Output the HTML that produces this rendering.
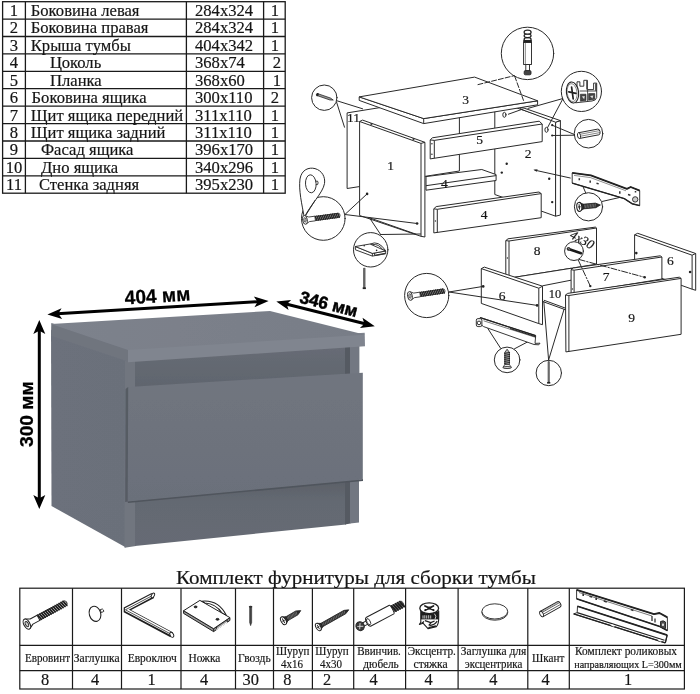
<!DOCTYPE html>
<html><head><meta charset="utf-8">
<style>
html,body{margin:0;padding:0;background:#fff;}
body{width:700px;height:694px;overflow:hidden;position:relative;font-family:"Liberation Serif",serif;}
svg{position:absolute;left:0;top:0;will-change:transform;opacity:0.9999;}
text{font-family:"Liberation Serif",serif;fill:#151515;stroke:#151515;stroke-width:0.18px;}
.t1{font-size:16.6px;}
.sans{font-family:"Liberation Sans",sans-serif;font-weight:bold;fill:#000;stroke:#000;stroke-width:0.25px;}
.ln{stroke:#2a2a2a;stroke-width:1;fill:none;stroke-linejoin:round;stroke-linecap:round;}
.pf{stroke:#2a2a2a;stroke-width:1;fill:#fff;stroke-linejoin:round;}
</style></head><body>
<svg width="700" height="694" viewBox="0 0 700 694">
<rect width="700" height="694" fill="#fff"/>

<!-- ===== TOP TABLE ===== -->
<g id="toptable" stroke="#1a1a1a" stroke-width="1.3" fill="none">
<rect x="2.6" y="1.7" width="282.6" height="191.5"/>
<path d="M25.4 1.7V193.2M186.4 1.7V193.2M263.6 1.7V193.2"/>
<path d="M2.6 19.1H285.2M2.6 36.5H285.2M2.6 53.9H285.2M2.6 71.3H285.2M2.6 88.7H285.2M2.6 106.1H285.2M2.6 123.6H285.2M2.6 141H285.2M2.6 158.4H285.2M2.6 175.8H285.2"/>
</g>
<g id="toptext" class="t1">
<text x="14" y="16" text-anchor="middle">1</text>
<text x="14" y="33.4" text-anchor="middle">2</text>
<text x="14" y="50.8" text-anchor="middle">3</text>
<text x="14" y="68.2" text-anchor="middle">4</text>
<text x="14" y="85.6" text-anchor="middle">5</text>
<text x="14" y="103" text-anchor="middle">6</text>
<text x="14" y="120.5" text-anchor="middle">7</text>
<text x="14" y="137.9" text-anchor="middle">8</text>
<text x="14" y="155.3" text-anchor="middle">9</text>
<text x="14" y="172.7" text-anchor="middle">10</text>
<text x="14" y="190.1" text-anchor="middle">11</text>

<text x="30.8" y="16">Боковина левая</text>
<text x="30.8" y="33.4">Боковина правая</text>
<text x="30.8" y="50.8">Крыша тумбы</text>
<text x="50" y="68.2">Цоколь</text>
<text x="50" y="85.6">Планка</text>
<text x="31.6" y="103">Боковина ящика</text>
<text x="30.8" y="120.5">Щит ящика передний</text>
<text x="30.8" y="137.9">Щит ящика задний</text>
<text x="41" y="155.3">Фасад ящика</text>
<text x="41" y="172.7">Дно ящика</text>
<text x="39" y="190.1">Стенка задняя</text>

<text x="195" y="16">284х324</text>
<text x="195" y="33.4">284х324</text>
<text x="195" y="50.8">404х342</text>
<text x="195" y="68.2">368х74</text>
<text x="195" y="85.6">368х60</text>
<text x="195" y="103">300х110</text>
<text x="195" y="120.5">311х110</text>
<text x="195" y="137.9">311х110</text>
<text x="195" y="155.3">396х170</text>
<text x="195" y="172.7">340х296</text>
<text x="195" y="190.1">395х230</text>

<text x="275" y="16" text-anchor="middle">1</text>
<text x="275" y="33.4" text-anchor="middle">1</text>
<text x="275" y="50.8" text-anchor="middle">1</text>
<text x="277" y="68.2" text-anchor="middle">2</text>
<text x="277" y="85.6" text-anchor="middle">1</text>
<text x="275" y="103" text-anchor="middle">2</text>
<text x="275" y="120.5" text-anchor="middle">1</text>
<text x="275" y="137.9" text-anchor="middle">1</text>
<text x="275" y="155.3" text-anchor="middle">1</text>
<text x="275" y="172.7" text-anchor="middle">1</text>
<text x="275" y="190.1" text-anchor="middle">1</text>
</g>

<!-- ===== NIGHTSTAND ===== -->
<g id="stand">
<!--NIGHTSTAND-->
<defs>
<linearGradient id="gTop" x1="0" y1="0" x2="1" y2="0"><stop offset="0" stop-color="#7d828c"/><stop offset="1" stop-color="#787d87"/></linearGradient>
<linearGradient id="gSide" x1="0" y1="0" x2="1" y2="0"><stop offset="0" stop-color="#6c717b"/><stop offset="1" stop-color="#6b707a"/></linearGradient>
<linearGradient id="gDr" x1="0" y1="0" x2="0" y2="1"><stop offset="0" stop-color="#70757f"/><stop offset="1" stop-color="#6b707a"/></linearGradient>
<filter id="soft" x="-5%" y="-5%" width="110%" height="110%"><feGaussianBlur stdDeviation="0.45"/></filter>
<linearGradient id="gRec" x1="0" y1="0" x2="0" y2="1"><stop offset="0" stop-color="#686d76"/><stop offset="1" stop-color="#5f646d"/></linearGradient>
<linearGradient id="gPl" x1="0" y1="0" x2="0" y2="1"><stop offset="0" stop-color="#595e66"/><stop offset="0.35" stop-color="#646972"/><stop offset="1" stop-color="#666b74"/></linearGradient>
</defs>
<g filter="url(#soft)">
<!-- left side -->
<polygon points="51,330 130,355 126,547.5 51.5,506" fill="url(#gSide)"/>
<!-- left panel front edge -->
<polygon points="125,356 136,356 136,546 124.5,547.8" fill="#71767f"/>
<!-- recess -->
<polygon points="135,355 346,340 346,376 135,391" fill="url(#gRec)"/>
<!-- right panel shadow+edge top -->
<polygon points="345,340 350.5,340 350.5,376 345,376" fill="#555a62"/>
<polygon points="350,340 359.4,340 359.4,376 350,376" fill="#737882"/>
<!-- plinth -->
<polygon points="135,497 346,477 346,524.5 135,546" fill="url(#gPl)"/>
<polygon points="345,477 350.5,477 350.5,523.5 345,524.5" fill="#555a62"/>
<polygon points="350,477 359,477 359,522.5 350,523.5" fill="#727781"/>
<!-- drawer front -->
<polygon points="127.5,501 363,479 363,481 128,503" fill="#50555d"/>
<polygon points="128,387 362.8,372.7 362.8,479.5 127.5,501.5" fill="url(#gDr)"/>
<polygon points="125.6,389 128.2,387 127.7,501.5 125.2,502" fill="#565b64"/>
<!-- top slab -->
<polygon points="51.3,323 129,347.5 129,362 51,336" fill="#6f747e"/>
<polygon points="128,347.5 364.7,332.8 365,346.3 128,362.3" fill="#80858f"/>
<polygon points="51,324 270,311 365,334.8 128,350" fill="url(#gTop)"/>
</g>
<!-- arrows -->
<g fill="#000" stroke="none">
<!-- 404 arrow heads (line angle -3.45deg) -->
<g transform="translate(47.4,314.4) rotate(-3.45)"><path d="M0 0L14.5 -5.4L11 0L14.5 5.4Z"/></g>
<g transform="translate(268.6,301) rotate(176.55)"><path d="M0 0L14.5 -5.4L11 0L14.5 5.4Z"/></g>
<!-- 346 arrow heads (angle 14.2deg) -->
<g transform="translate(276.3,301.5) rotate(14.2)"><path d="M0 0L14 -5.2L10.8 0L14 5.2Z"/></g>
<g transform="translate(374.8,326.3) rotate(194.2)"><path d="M0 0L14 -5.2L10.8 0L14 5.2Z"/></g>
<!-- 300 arrow heads -->
<g transform="translate(39.3,320) rotate(90)"><path d="M0 0L14 -6L10.8 0L14 6Z"/></g>
<g transform="translate(39.3,509) rotate(-90)"><path d="M0 0L14 -6L10.8 0L14 6Z"/></g>
</g>
<g stroke="#000" stroke-width="3" fill="none">
<path d="M57 313.8L259 301.6"/>
<path d="M286 304L365 323.8"/>
<path d="M39.3 330V499"/>
</g>
<text class="sans" font-size="19.6" textLength="65.8" lengthAdjust="spacingAndGlyphs" transform="translate(125,304.4) rotate(-3.4)">404 мм</text>
<text class="sans" font-size="17.4" textLength="59" lengthAdjust="spacingAndGlyphs" style="stroke-width:0.5px" transform="translate(298.8,302.4) rotate(14.5)">346 мм</text>
<text class="sans" font-size="18.5" textLength="65.8" lengthAdjust="spacingAndGlyphs" transform="translate(33.3,447) rotate(-90)">300 мм</text>
</g>

<!-- ===== EXPLODED DIAGRAM ===== -->
<g id="explode">
<!--EXPLODE-->
<g class="pf" stroke-width="1.15">
<!-- panel 11 (back wall) -->
<path d="M347.1 112.9L459.4 94.8V171L347.1 188.5Z"/>
<!-- panel 2 right side (inner face seen) -->
<path d="M494.8 100.6V194.5L555.6 216.2V121Z"/>
<path d="M555.6 122.2L560.4 120.6V215L555.6 216.2Z"/>
<path d="M521.7 107.3L560.4 120.6L555.6 122.2L520.5 109Z"/>
<!-- back vertical (panel 11 edge seen through) -->
<!-- upper plank 4 (rear plinth, lying flat) -->
<path d="M426 176.6L481.8 169.5L496.1 174.6V180.5L426 190.2Z"/>
<path d="M426 185.7L496.1 175.6" fill="none"/>
<!-- plank 5 -->
<path d="M430.2 139.9L432.4 137.8L539.2 121.2L542.2 124V141.6L430.2 158.9Z"/>
<path d="M434.3 140.4V158.2M430.2 139.9L434.3 140.4L542.2 124" fill="none"/>
<!-- lower plank 4 -->
<path d="M433.8 208.8L436.2 206.6L539 192L541.2 193.6V217.7L433.8 232.9Z"/>
<path d="M437.3 209.3V232.3M433.8 208.8L437.3 209.3L541.2 193.6" fill="none"/>
<!-- panel 3 top -->
<path d="M359.2 96.9V100.4L423.7 123.6L537.6 104.8V100.8L423.7 118.6Z"/>
<path d="M359.2 96.9L474.6 77.1L537.6 100.8L423.7 118.6Z"/>
<path d="M423.7 118.6V123.6" fill="none"/>
<!-- panel 1 left side -->
<path d="M359.6 121.5L362.6 120.1L424.9 142.3V237L421 236.3L359.6 215.5Z"/>
<path d="M359.6 121.5L421 143.4V236.3M421 143.4L424.9 142.3" fill="none"/>
</g>
<!-- drawer parts -->
<g class="pf" stroke-width="1.15">
<!-- panel 8 -->
<path d="M505.8 240.6L508 238.8L595.4 227.1L596.5 228V264.2L505.8 278.7Z"/>
<path d="M509 241V278M505.8 240.6L509 241L596.5 228" fill="none"/>
<!-- panel 6 right -->
<path d="M634.6 234.8L637.7 233.3L695.7 253.5V290.3L692.1 289.2L634.6 268.6Z"/>
<path d="M634.6 234.8L692.1 255.2V289.2M692.1 255.2L695.7 253.5" fill="none"/>
<!-- panel 10 bottom -->
<path d="M515.6 277.1L571 268.3L640 292L565 309.6L543.5 301.8Z"/>
<path d="M542.5 285.8L571 280.2" fill="none"/>
<path d="M543.8 300.2L565.6 308.2" fill="none"/>
<!-- panel 7 -->
<path d="M571.1 269.7L573.2 268L660.2 255.8L661.9 257V279L571.1 294Z"/>
<path d="M574.1 270.2V293.5M571.1 269.7L574.1 270.2L661.9 257" fill="none"/>
<!-- panel 6 left -->
<path d="M481.3 268.6L484.3 267.1L542.5 286.2V324.7L538.8 323.6L481.3 303.4Z"/>
<path d="M481.3 268.6L538.8 288.2V323.6M538.8 288.2L542.5 286.2" fill="none"/>
<!-- panel 9 facade -->
<path d="M565.5 295L567.6 293.4L679.4 277.2L681.1 278.4V334.3L565.9 351.9Z"/>
<path d="M568.9 295.5V351.4M565.5 295L568.9 295.5L681.1 278.4" fill="none"/>
</g>

<g class="ln" stroke-width="1">
<!-- nail circle (top-left) -->
<circle cx="324.3" cy="97.7" r="12.7" fill="#fff"/>
<path d="M337 100.8L362.6 108.8M336.6 102.2L344.5 127.2"/>
<!-- euroscrew circle 1 -->
<circle cx="323.3" cy="218.5" r="21.8" fill="#fff"/>
<path d="M344.9 214.5L367.1 193.9M344.9 214.5L417.1 223.5"/>
<!-- plug teardrop -->
<path d="M304.3 217.5C302 205 298.5 190 300 179C301.5 169.5 309 167 315 168.6C322 170.5 325.5 177 324.5 183.5C323 193 310 205 304.3 217.5Z" fill="#fff"/>
<path d="M304.3 217.5L315 200.5"/>
<!-- leg circle -->
<circle cx="370.7" cy="249.8" r="17.2" fill="#fff"/>
<path d="M380.6 234.5L369.5 217.8L416 234.2M380.6 234.5L420.5 234"/>
<!-- dowel-bolt circle (top) -->
<circle cx="527.5" cy="53.4" r="26.2" fill="#fff"/>
<path d="M478 84.6L514.2 75.7M514.7 76.2L523.5 100.4" stroke-dasharray="5 2"/>
<!-- eccentric circle -->
<circle cx="581.4" cy="91.4" r="20.1" fill="#fff"/>
<path d="M562.6 98.6L528 108.4M522.9 109L508.4 114.2M562.6 99.3L547.6 127.5"/>
<ellipse cx="504.4" cy="114.8" rx="1.6" ry="2.5"/>
<ellipse cx="546.5" cy="129.8" rx="1.6" ry="2.5"/>
<!-- dowel circle -->
<circle cx="588.5" cy="133.7" r="14.3" fill="#fff"/>
<path d="M574.6 134.6L552.2 125.2M574.6 135.2L552.2 135.5"/>
<!-- rail arrow -->
<path d="M570.3 178L535 170.2"/>
<!-- rail screw circle -->
<circle cx="588.5" cy="206.8" r="14.1" fill="#fff"/>
<path d="M585.7 192.8L580.6 181.2M602.4 201.4L620.4 197.3"/>
<!-- 4x30 circle -->
<circle cx="574" cy="251.1" r="9.4" fill="#fff"/>
<path d="M579.2 259.5L644.7 277.3" stroke-dasharray="6 1.8 1.4 1.8"/><path d="M578.4 260.4L590.3 286.1" stroke-dasharray="6 1.8 1.4 1.8"/>
<!-- euroscrew circle 2 -->
<circle cx="426.7" cy="295.5" r="22.1" fill="#fff"/>
<path d="M448.9 292L483.2 286.4M448.9 292L537.1 305.4"/>
<!-- bottom rail screw circle -->
<circle cx="507.1" cy="359.9" r="12.8" fill="#fff"/>
<path d="M500.7 348.4L487.9 328.6M514.5 348.8L528.6 341.4"/>
<!-- nail circle bottom -->
<circle cx="548.8" cy="373" r="12.7" fill="#fff"/>
<path d="M548.6 360L543.8 301.4M548.6 360L564 309.4"/>
</g>
<!-- dots -->
<g fill="#222" stroke="none">
<circle cx="367.1" cy="193.9" r="1.3"/><circle cx="417.1" cy="223.5" r="1.3"/>
<circle cx="552.2" cy="125.2" r="1.1"/><circle cx="552.2" cy="135.5" r="1.1"/>
<circle cx="506.7" cy="163.8" r="1.2"/><circle cx="501.8" cy="172.6" r="1.2"/>
<circle cx="549.2" cy="178.8" r="1.2"/><circle cx="552.2" cy="202.1" r="1.2"/>
<circle cx="636.3" cy="253.1" r="1.3"/><circle cx="690.1" cy="272" r="1.3"/>
<circle cx="590.3" cy="286.1" r="1.2"/><circle cx="644.7" cy="277.3" r="1.2"/>
<circle cx="483.2" cy="286.4" r="1.3"/><circle cx="537.1" cy="305.4" r="1.3"/>
<path d="M533.4 169.8l4.2 -0.6l-0.8 2.6z"/>
</g>

<!-- nail in top-left circle -->
<g transform="translate(317.4,94.6) rotate(19)">
<path d="M0 -1H13.5L16.8 0L13.5 1H0Z" fill="#999" stroke="#222" stroke-width="0.7"/>
<ellipse cx="0" cy="0" rx="1.3" ry="1.7" fill="#222"/>
</g>
<!-- euroscrews in circles -->
<g transform="translate(304.8,219.9) rotate(-7.7) scale(0.78,0.8)"><use href="#euro"/></g>
<g transform="translate(409.8,296) rotate(-8.4) scale(0.78,0.8)"><use href="#euro"/></g>
<!-- plug in teardrop -->
<g stroke="#222" stroke-width="0.9" fill="#fff">
<path d="M315 181.2h2.6q1 1.6 0 3.4h-2.6z"/>
<ellipse cx="310.8" cy="183.8" rx="5.3" ry="9" transform="rotate(-4 310.8 183.8)"/>
</g>
<!-- leg in circle -->
<g stroke="#222" stroke-width="0.9" fill="#fff" stroke-linejoin="round">
<path d="M370.4 244Q378.4 240 385.6 250.6L383 250Q378.6 243.6 372.6 244.6Z"/>
<path d="M355.4 246.5V249.8L372.4 256.1L385.7 253.7V251L372.4 253.4Z" fill="#fff"/>
<path d="M355.4 246.5L370 244L385.7 251L372.4 253.4Z"/>
<path d="M372.4 253.4V256.1M374.6 253V255.6" fill="none"/>
<path d="M375 255.4L385.4 253.4" stroke="#333" stroke-width="1.4" fill="none"/>
<circle cx="364.2" cy="245.8" r="0.8" fill="#222" stroke="none"/><circle cx="376.6" cy="250.4" r="0.8" fill="#222" stroke="none"/>
</g>
<!-- nail below leg circle -->
<path d="M363.5 268.2h1.6v19.3h-1.6z" fill="#777" stroke="#222" stroke-width="0.5"/>
<rect x="362.7" y="287.3" width="3.2" height="1.8" fill="#222"/>
<!-- dowel bolt in top circle -->
<g stroke="#222" stroke-width="0.9">
<rect x="525.8" y="64.3" width="3.7" height="7" fill="#fff"/>
<rect x="524.2" y="70.6" width="6.8" height="4.2" rx="1.2" fill="#444"/>
<rect x="523.6" y="42" width="7.9" height="22.5" fill="#fff"/>
<path d="M525.4 43V64" stroke-width="0.5" fill="none"/>
<ellipse cx="527.6" cy="39.4" rx="3.5" ry="1.8" fill="#fff" stroke-width="1.2"/>
<ellipse cx="527.6" cy="35.8" rx="3.5" ry="1.8" fill="#fff" stroke-width="1.2"/>
<ellipse cx="527.6" cy="32.2" rx="3.5" ry="2" fill="#fff" stroke-width="1.2"/>
<rect x="523.8" y="40.4" width="7.5" height="2" fill="#222"/>
</g>
<!-- eccentric in circle -->
<g stroke="#222" stroke-width="0.9" stroke-linejoin="round" fill="#fff">
<path d="M577 88V81.8H579.9V86.2H583.8V80.3H587.4V89.6H593.6V83.1H596.7V97.5Q596 100.6 592 101L575.5 102.8Z"/>
<path d="M586.3 80.6h1v9h-1zM595.2 83.4h1.4v7.4h-1.4z" fill="#333" stroke="none"/>
<path d="M579.6 91H596.7" fill="none" stroke-width="0.8"/>
<path d="M587.6 89.6V101.2" fill="none" stroke-width="0.8"/>
<path d="M580.4 94.2h5.6v6.4l-5.6 0.6zM588.6 93.6h6.2v5.6l-6.2 1z" fill="#444" stroke-width="0.6"/>
<path d="M581.8 96.6l3 -0.6l-0.6 3.2zM590 96l3.4 -0.6l-1 3z" fill="#ddd" stroke="none"/>
<ellipse cx="572.5" cy="92.5" rx="6.1" ry="10.5" transform="rotate(-7 572.5 92.5)" stroke-width="1.1"/>
<ellipse cx="572.1" cy="92.6" rx="4.9" ry="9" transform="rotate(-7 572.1 92.6)" stroke-width="0.5"/>
<path d="M568.8 91.8L576 93.4M571.6 87.2L573.2 98.8" stroke-width="1.7" stroke-linecap="round" fill="none"/>
</g>
<!-- dowel in circle -->
<g transform="translate(579,135.6) rotate(-10.7)" stroke="#222" stroke-width="0.9">
<path d="M0 -2.9H19.6Q21.4 -2.9 21.4 0Q21.4 2.9 19.6 2.9H0Z" fill="#fff"/>
<path d="M1.4 -1.1H21M1.6 0.9H21.1" stroke-width="0.6" stroke="#444"/>
<ellipse cx="0" cy="0" rx="1.5" ry="2.9" fill="#fff"/>
</g>
<!-- upper rail (explode) -->
<g stroke="#222" stroke-width="0.9" fill="#fff" stroke-linejoin="round">
<path d="M572.2 172.9L590.9 175.4L626.9 188.9L630.7 187L639.7 190.6V205.6L632 203.7L624.3 198.6L572.2 183.1Z"/>
<path d="M572.2 172.9L590.9 175.4L626.9 188.9L630.7 187L639.7 190.6" fill="none" stroke-width="1.8"/>
<path d="M572.2 183.1L624.3 198.6L632 203.7L639.7 205.6" fill="none" stroke-width="1.4"/>
<path d="M574 175.4L590.5 177.6L626 190.8" fill="none" stroke-width="0.5"/>
<circle cx="635.2" cy="199.4" r="2.7" fill="#ccc"/>
<path d="M579.3 178.2v2M590.2 180.4v2.4M596.5 183.2l2.2 0.7M619.8 191.2v2.6M628 194.6l2.4 0.6M635.5 191v1.6" fill="none" stroke-width="1.5" stroke="#333"/>
</g>
<!-- rail screw in circle -->
<g transform="translate(579.3,206.9) rotate(-5.2) scale(1.06,1.05)"><use href="#scr16"/></g>
<!-- 4x30 screw in circle -->
<path d="M568.6 248.9L581 253.2" stroke="#1a1a1a" stroke-width="2.6" stroke-linecap="round" fill="none"/>
<circle cx="568.5" cy="248.8" r="1.9" fill="#333"/>
<path d="M568 247.6l1.6 2.2" stroke="#bbb" stroke-width="0.6"/>
<text font-size="13" font-style="italic" fill="#222" transform="translate(569,237.6) rotate(28)">4x30</text>
<!-- bottom rail -->
<g stroke="#222" stroke-width="0.9" fill="#fff" stroke-linejoin="round">
<path d="M480.2 317.6L535.7 335.7L535 343.4L540 343.2L538.8 344.8L534 344.5L483.6 326.6L480.2 324Z"/>
<path d="M480.2 317.6L535.7 335.7" fill="none" stroke-width="1.3"/>
<path d="M483.6 320.8L535.5 337.3" fill="none" stroke-width="0.6"/>
<path d="M510 328.5L535.7 336.8" fill="none" stroke-width="1.2"/>
<rect x="476.3" y="318.6" width="5.6" height="8" rx="1.6" fill="#eee"/>
<circle cx="479" cy="322.9" r="1.8" fill="#fff"/>
</g>
<!-- bottom rail screw (vertical, head down) -->
<g stroke="#222" stroke-width="0.8" stroke-linejoin="round">
<path d="M507.1 349.2L509.4 352.4V365H504.8V352.4Z" fill="#bbb"/>
<path d="M504.2 353.4L510 352.5M504.2 355.4L510 354.5M504.2 357.4L510 356.5M504.2 359.4L510 358.5M504.2 361.4L510 360.5M504.2 363.4L510 362.5" stroke="#222" stroke-width="1.1" fill="none"/>
<path d="M504.8 364.6H509.4L511.4 367.4Q507.1 369.6 502.9 367.4Z" fill="#fff"/>
<ellipse cx="507.1" cy="367.5" rx="4.2" ry="1" fill="#ddd"/>
</g>
<!-- bottom nail -->
<path d="M548 361.6h1.4v20.5h-1.4z" fill="#888" stroke="#222" stroke-width="0.5"/>
<rect x="547.1" y="382" width="3.2" height="1.6" fill="#222"/>
<!-- panel holes / cam marks -->
<g fill="#333" stroke="none">
<circle cx="371.4" cy="124" r="1.1"/><circle cx="413.5" cy="139" r="1.1"/>
<circle cx="431.9" cy="143.8" r="0.8"/><circle cx="431.9" cy="154.2" r="0.8"/>
<circle cx="435.4" cy="221" r="0.7"/>
<circle cx="507.4" cy="258" r="0.7"/><circle cx="572.5" cy="289" r="0.7"/>
</g>


<g font-size="13.5" text-anchor="middle" fill="#222">
<text x="390.5" y="170">1</text>
<text x="528" y="158.2">2</text>
<text x="465.5" y="103.7">3</text>
<text x="444.3" y="188">4</text>
<text x="484" y="218.6">4</text>
<text x="479.6" y="143.8">5</text>
<text x="502" y="299.8">6</text>
<text x="670.3" y="264.6">6</text>
<text x="606" y="280.8">7</text>
<text x="537.1" y="254.5">8</text>
<text x="631.6" y="321.6">9</text>
<text x="555" y="297.8" font-size="12.4">10</text>
<text x="353.5" y="122.3">11</text>
</g>
</g>

<!-- ===== BOTTOM TABLE ===== -->
<g id="bottable">
<!--BOTTOM-->
<text x="176" y="584" font-size="19.6" textLength="360" lengthAdjust="spacingAndGlyphs">Комплект фурнитуры для сборки тумбы</text>
<g stroke="#1a1a1a" stroke-width="1.2" fill="none">
<rect x="19.8" y="588.2" width="664.6" height="100.8"/>
<path d="M19.8 645.4H684.4M19.8 670.6H684.4"/>
<path d="M72.5 588.2V689M121.5 588.2V689M181 588.2V689M235.5 588.2V689M273.5 588.2V689M312.4 588.2V689M353.7 588.2V689M405.6 588.2V689M458.1 588.2V689M527.8 588.2V689M569.3 588.2V689"/>
</g>
<g font-size="12" text-anchor="middle">
<text x="47.5" y="661.6" textLength="45" lengthAdjust="spacingAndGlyphs">Евровинт</text>
<text x="96.7" y="661.6" textLength="45.8" lengthAdjust="spacingAndGlyphs">Заглушка</text>
<text x="152.2" y="661.6" textLength="49" lengthAdjust="spacingAndGlyphs">Евроключ</text>
<text x="204.4" y="661.6" textLength="32" lengthAdjust="spacingAndGlyphs">Ножка</text>
<text x="254.3" y="661.6" textLength="32.7" lengthAdjust="spacingAndGlyphs">Гвоздь</text>
<text x="292.6" y="655.2" textLength="33.4" lengthAdjust="spacingAndGlyphs">Шуруп</text>
<text x="292" y="667.8" textLength="22" lengthAdjust="spacingAndGlyphs">4х16</text>
<text x="332" y="655.2" textLength="33.4" lengthAdjust="spacingAndGlyphs">Шуруп</text>
<text x="331" y="667.8" textLength="22" lengthAdjust="spacingAndGlyphs">4х30</text>
<text x="379" y="655.2" textLength="43.7" lengthAdjust="spacingAndGlyphs">Ввинчив.</text>
<text x="381" y="667.8" textLength="35.5" lengthAdjust="spacingAndGlyphs">дюбель</text>
<text x="431.8" y="655.2" textLength="48.3" lengthAdjust="spacingAndGlyphs">Эксцентр.</text>
<text x="430.6" y="667.8" textLength="34" lengthAdjust="spacingAndGlyphs">стяжка</text>
<text x="493.6" y="655.2" textLength="65.5" lengthAdjust="spacingAndGlyphs">Заглушка для</text>
<text x="493.6" y="667.8" textLength="57.3" lengthAdjust="spacingAndGlyphs">эксцентрика</text>
<text x="548.2" y="661.6" textLength="32.3" lengthAdjust="spacingAndGlyphs">Шкант</text>
<text x="626" y="655.2" textLength="102" lengthAdjust="spacingAndGlyphs">Комплект роликовых</text>
<text x="628" y="667.6" font-size="11" textLength="107.5" lengthAdjust="spacingAndGlyphs">направляющих L=300мм</text>
</g>
<g font-size="16.4" text-anchor="middle">
<text x="45" y="685.3">8</text>
<text x="95.1" y="685.3">4</text>
<text x="151.7" y="685.3">1</text>
<text x="204.2" y="685.3">4</text>
<text x="250.8" y="685.3">30</text>
<text x="287.3" y="685.3">8</text>
<text x="327.1" y="685.3">2</text>
<text x="373.7" y="685.3">4</text>
<text x="428.5" y="685.3">4</text>
<text x="493.3" y="685.3">4</text>
<text x="545.7" y="685.3">4</text>
<text x="628" y="685.3">1</text>
</g>
<!--ICONS-->
<defs>
<pattern id="thr" width="1.5" height="8" patternUnits="userSpaceOnUse" patternTransform="skewX(-18)"><rect width="1.5" height="8" fill="#fff"/><rect width="0.95" height="8" fill="#2a2a2a"/></pattern>
<pattern id="thr2" width="1.25" height="8" patternUnits="userSpaceOnUse" patternTransform="skewX(-18)"><rect width="1.25" height="8" fill="#666"/><rect width="0.85" height="8" fill="#1e1e1e"/></pattern>
<!-- euroscrew symbol, head at 0,0 pointing +x, length 44.8 -->
<g id="euro">
 <path d="M13 -2.6H43.8Q45.6 -2.4 45.6 0Q45.6 2.4 43.8 2.6H13Z" fill="#d0d0d0" stroke="#222" stroke-width="0.9"/>
 <g fill="#1e1e1e" stroke="#1e1e1e" stroke-width="0.98"><ellipse cx="14.60" cy="0" rx="0.36" ry="3.3" transform="rotate(-14 14.60 0)"/><ellipse cx="16.83" cy="0" rx="0.36" ry="3.3" transform="rotate(-14 16.83 0)"/><ellipse cx="19.06" cy="0" rx="0.36" ry="3.3" transform="rotate(-14 19.06 0)"/><ellipse cx="21.29" cy="0" rx="0.36" ry="3.3" transform="rotate(-14 21.29 0)"/><ellipse cx="23.52" cy="0" rx="0.36" ry="3.3" transform="rotate(-14 23.52 0)"/><ellipse cx="25.75" cy="0" rx="0.36" ry="3.3" transform="rotate(-14 25.75 0)"/><ellipse cx="27.98" cy="0" rx="0.36" ry="3.3" transform="rotate(-14 27.98 0)"/><ellipse cx="30.22" cy="0" rx="0.36" ry="3.3" transform="rotate(-14 30.22 0)"/><ellipse cx="32.45" cy="0" rx="0.36" ry="3.3" transform="rotate(-14 32.45 0)"/><ellipse cx="34.68" cy="0" rx="0.36" ry="3.3" transform="rotate(-14 34.68 0)"/><ellipse cx="36.91" cy="0" rx="0.36" ry="3.3" transform="rotate(-14 36.91 0)"/><ellipse cx="39.14" cy="0" rx="0.36" ry="3.3" transform="rotate(-14 39.14 0)"/><ellipse cx="41.37" cy="0" rx="0.36" ry="3.3" transform="rotate(-14 41.37 0)"/><ellipse cx="43.60" cy="0" rx="0.36" ry="3.3" transform="rotate(-14 43.60 0)"/></g>
 <path d="M1 -5.3L5.5 -2.9H13.4V2.9H5.5L1 5.3Z" fill="#fff" stroke="#222" stroke-width="1" stroke-linejoin="round"/>
 <ellipse cx="0.2" cy="0" rx="3" ry="5.5" fill="#fff" stroke="#222" stroke-width="1.1"/>
 <ellipse cx="0.2" cy="0" rx="1.5" ry="2.8" fill="#ccc" stroke="#222" stroke-width="0.9"/>
</g>
<!-- wood screw, head at 0,0 pointing +x, unit length: use scale -->
<g id="scr16"><path d="M3 -2.2L15.5 -2.2L20 0L15.5 2.2L3 2.2Z" fill="#2b2b2b" stroke="#1e1e1e" stroke-width="0.7" stroke-linejoin="round"/><path d="M5.00 -1.7000000000000002L4.10 1.7000000000000002M6.50 -1.7000000000000002L5.60 1.7000000000000002M8.00 -1.7000000000000002L7.10 1.7000000000000002M9.50 -1.7000000000000002L8.60 1.7000000000000002M11.00 -1.7000000000000002L10.10 1.7000000000000002M12.50 -1.7000000000000002L11.60 1.7000000000000002M14.00 -1.7000000000000002L13.10 1.7000000000000002M15.50 -1.7000000000000002L14.60 1.7000000000000002" stroke="#aaa" stroke-width="0.45" fill="none"/><path d="M0.5 -4.1L4 -2.2V2.2L0.5 4.1Z" fill="#333" stroke="#1e1e1e" stroke-width="0.7"/><ellipse cx="0" cy="0" rx="2.41" ry="4.3" fill="#fff" stroke="#1e1e1e" stroke-width="1"/><path d="M-1.29 0H1.29M0 -2.58V2.58" stroke="#1e1e1e" stroke-width="0.9"/></g>
<g id="scr30"><path d="M3 -1.9L30.5 -1.9L35 0L30.5 1.9L3 1.9Z" fill="#2b2b2b" stroke="#1e1e1e" stroke-width="0.7" stroke-linejoin="round"/><path d="M5.00 -1.4L4.10 1.4M6.82 -1.4L5.92 1.4M8.64 -1.4L7.74 1.4M10.46 -1.4L9.56 1.4M12.29 -1.4L11.39 1.4M14.11 -1.4L13.21 1.4M15.93 -1.4L15.03 1.4M17.75 -1.4L16.85 1.4M19.57 -1.4L18.67 1.4M21.39 -1.4L20.49 1.4M23.21 -1.4L22.31 1.4M25.04 -1.4L24.14 1.4M26.86 -1.4L25.96 1.4M28.68 -1.4L27.78 1.4M30.50 -1.4L29.60 1.4" stroke="#aaa" stroke-width="0.45" fill="none"/><path d="M0.5 -3.8999999999999995L4 -1.9V1.9L0.5 3.8999999999999995Z" fill="#333" stroke="#1e1e1e" stroke-width="0.7"/><ellipse cx="0" cy="0" rx="2.30" ry="4.1" fill="#fff" stroke="#1e1e1e" stroke-width="1"/><path d="M-1.23 0H1.23M0 -2.46V2.46" stroke="#1e1e1e" stroke-width="0.9"/></g>
</defs>
<!-- 1 euroscrew -->
<use href="#euro" transform="translate(26.7,624.2) rotate(-28.5)"/>
<!-- 2 plug -->
<g stroke="#222" stroke-width="0.9" fill="#fff">
<path d="M100.2 609.6l2.2 -0.6q1.2 0.6 1.4 2.4l-2.4 1.2z"/>
<ellipse cx="95" cy="613.8" rx="5.7" ry="7.7" transform="rotate(-17 95 613.8)" stroke-width="1.1"/>
</g>
<!-- 3 allen key -->
<g fill="none" stroke-linejoin="bevel" stroke-linecap="butt">
<path d="M152.9 595.4L125 609.9L171.8 634.9" stroke="#1e1e1e" stroke-width="5.6"/>
<path d="M153.2 595L125.6 609.6L172 634.2" stroke="#fff" stroke-width="2.9"/>
<path d="M153 595.3L125.4 609.8L171.8 634.6" stroke="#2a2a2a" stroke-width="0.8"/>
<ellipse cx="171.8" cy="634.8" rx="1.7" ry="2.7" transform="rotate(-28 171.8 634.8)" fill="#fff" stroke="#1e1e1e" stroke-width="0.9"/>
<ellipse cx="152.9" cy="595.4" rx="1.4" ry="2.6" transform="rotate(28 152.9 595.4)" fill="#fff" stroke="#1e1e1e" stroke-width="0.9"/>
</g>
<!-- 4 leg -->
<g stroke="#1e1e1e" stroke-width="1" fill="#fff" stroke-linejoin="round">
<path d="M201.6 601.2Q218.6 599.4 226.4 615.6L222.2 613.3Q216 603.6 204.8 603Z" stroke-width="1.1"/>
<path d="M183.6 610.7V613.4L213.6 631.6L229.9 620.4V617.6L213.6 628.7Z" fill="#999"/>
<path d="M183.6 610.7L199.9 600.4L229.9 617.6L213.6 628.7Z"/>
<path d="M213.6 628.7V631.6M216.4 627V629.8M227.2 619.6V622.2" fill="none" stroke-width="0.9"/>
<path d="M216.4 629.6L227.2 622.2" stroke="#fff" stroke-width="1.1" fill="none"/>
<ellipse cx="195.6" cy="606.9" rx="1.5" ry="0.9" fill="#222"/>
<ellipse cx="217.5" cy="619.3" rx="1.5" ry="0.9" fill="#222"/>
</g>
<!-- 5 nail -->
<path d="M249.6 607.2h2.1v15.3l-1.05 3.2l-1.05 -3.2z" fill="#444" stroke="#222" stroke-width="0.5"/>
<ellipse cx="250.6" cy="606.8" rx="1.8" ry="1.1" fill="#333"/>
<!-- 6,7 screws -->
<use href="#scr16" transform="translate(283.5,620.7) rotate(-30.3)"/>
<use href="#scr30" transform="translate(318.3,627) rotate(-29.4)"/>
<!-- 8 dowel bolt -->
<g transform="translate(360.1,626.2) rotate(-27.8)" stroke="#222" stroke-width="1" stroke-linejoin="round">
<rect x="3" y="-1.8" width="6.5" height="3.6" fill="#fff"/>
<path d="M36 -3.5H47Q49 -3.3 49 0Q49 3.3 47 3.5H36Z" fill="#888" stroke-width="0.6"/>
<g fill="#1e1e1e" stroke="#1e1e1e" stroke-width="1.1"><ellipse cx="38.00" cy="0" rx="0.5" ry="3.9" transform="rotate(-14 38.00 0)"/><ellipse cx="40.35" cy="0" rx="0.5" ry="3.9" transform="rotate(-14 40.35 0)"/><ellipse cx="42.70" cy="0" rx="0.5" ry="3.9" transform="rotate(-14 42.70 0)"/><ellipse cx="45.05" cy="0" rx="0.5" ry="3.9" transform="rotate(-14 45.05 0)"/><ellipse cx="47.40" cy="0" rx="0.5" ry="3.9" transform="rotate(-14 47.40 0)"/></g>
<path d="M9.8 -4.9H35.6Q36.6 -4.9 36.6 0Q36.6 4.9 35.6 4.9H9.8Q7.4 4.9 7.4 0Q7.4 -4.9 9.8 -4.9Z" fill="#fff"/>
<ellipse cx="9.6" cy="0" rx="1.6" ry="3.4" fill="#fff" stroke-width="0.8"/>
<ellipse cx="0" cy="0" rx="4.1" ry="4.5" fill="#3a3a3a"/>
<path d="M-2.6 -1.2L2.8 1.6M-1.8 2.6L1.4 -2.8" stroke="#ddd" stroke-width="0.9"/>
</g>
<!-- 9 eccentric -->
<g stroke-linejoin="round">
<path d="M420.8 611V622.4L419.4 624.4L423 623.2L428 628.6L436.2 626.8Q439 624 438.7 617V611Z" fill="#fff" stroke="#1e1e1e" stroke-width="1.1"/>
<path d="M420.8 612H438.7V619.4H420.8Z" fill="#1e1e1e"/>
<path d="M423 615.4v3.2M424.8 615.2v3.4M426.7 615.4v3.2M428.7 615.2v3.4M430.7 615.4v3.2" stroke="#eee" stroke-width="0.8" fill="none"/>
<path d="M434.4 613.6q2.6 2.6 0.6 5.6" stroke="#ddd" stroke-width="0.9" fill="none"/>
<path d="M420.4 623.6L424.4 620.4L423.6 623Z" fill="#1e1e1e"/>
<path d="M425 620.6L430.8 622.6L434.6 621M428.6 625Q433.4 626.4 437.2 621.2M431 622.8L429 625" stroke="#1e1e1e" stroke-width="1.2" fill="none"/>
<path d="M428.4 627.6L436 626" stroke="#1e1e1e" stroke-width="1.3" fill="none"/>
<ellipse cx="429.2" cy="608.2" rx="9.4" ry="5.4" fill="#fff" stroke="#1e1e1e" stroke-width="1.3"/>
<path d="M425 606L433.6 610.2M433.4 606L425.2 610.2" stroke="#1e1e1e" stroke-width="1.9" stroke-linecap="round" fill="none"/>
<ellipse cx="429.3" cy="608.1" rx="2.2" ry="1.5" fill="#1e1e1e"/>
</g>
<!-- 10 cap -->
<g stroke="#222" stroke-width="0.9" fill="#fff">
<ellipse cx="494.8" cy="612.6" rx="12.9" ry="7.6"/>
<ellipse cx="494.8" cy="611.4" rx="12.9" ry="7.6"/>
</g>
<!-- 11 dowel -->
<g transform="translate(541.6,614.1) rotate(-29.5)" stroke="#222" stroke-width="0.9">
<path d="M0 -3H19.5Q21.6 -3 21.6 0Q21.6 3 19.5 3H0Z" fill="#fff"/>
<path d="M1.4 -1.2H21.2M1.6 0.9H21.3" stroke-width="0.7" stroke="#333"/><path d="M1 -2.2H20.6" stroke-width="0.5" stroke="#666"/>
<ellipse cx="0" cy="0" rx="1.6" ry="3" fill="#fff"/>
</g>
<!-- 12 rails -->
<g stroke="#222" stroke-width="0.9" fill="#fff" stroke-linejoin="round">
<!-- upper rail -->
<path d="M576.6 589.8L654 614.2L659.5 613L667.4 617.4V630.6L659 626.2L576.6 598.8Z"/>
<path d="M576.6 589.8L654 614.2L659.5 613L667.4 617.4" fill="none" stroke-width="1.8"/>
<path d="M576.6 598.8L659 626.2L667.4 630.6" fill="none" stroke-width="1.5"/>
<path d="M579 592.5L652 616" fill="none" stroke-width="0.6"/>
<path d="M652 616V621M655 618.5V622.5" fill="none" stroke-width="1.2"/>
<path d="M660.5 621.5q3 -1.5 5 0.5v6.5q-3 0.5 -5 -2.5z" fill="#555"/>
<ellipse cx="663" cy="624.8" rx="1.3" ry="2" fill="#fff" stroke-width="0.7"/>
<path d="M583.2 593.6v2.4M589.5 596.2l2.6 0.9M596.2 597.4v2.6M603.8 601l3 1M630.8 609.6l2.6 0.9" fill="none" stroke-width="1.6" stroke="#333"/>
<!-- lower rail -->
<path d="M577.5 606.2L667.2 635.1L665.3 642.9L573.7 613.9L577.2 612.6Z"/>
<path d="M577.5 606.2L667.2 635.1" fill="none" stroke-width="1.7"/>
<path d="M577.2 612.6L664.5 640.2" fill="none" stroke-width="1.2"/>
<path d="M573.7 613.9L665.3 642.9" fill="none" stroke-width="1.3"/>
<path d="M611.5 625L614.5 626M658.5 640L661.5 641" stroke="#fff" stroke-width="1.6" fill="none"/>
<path d="M665.3 642.9L667.2 635.1" fill="none" stroke-width="1.3"/>
</g>
<!--/ICONS-->
</g>
</svg>
</body></html>
